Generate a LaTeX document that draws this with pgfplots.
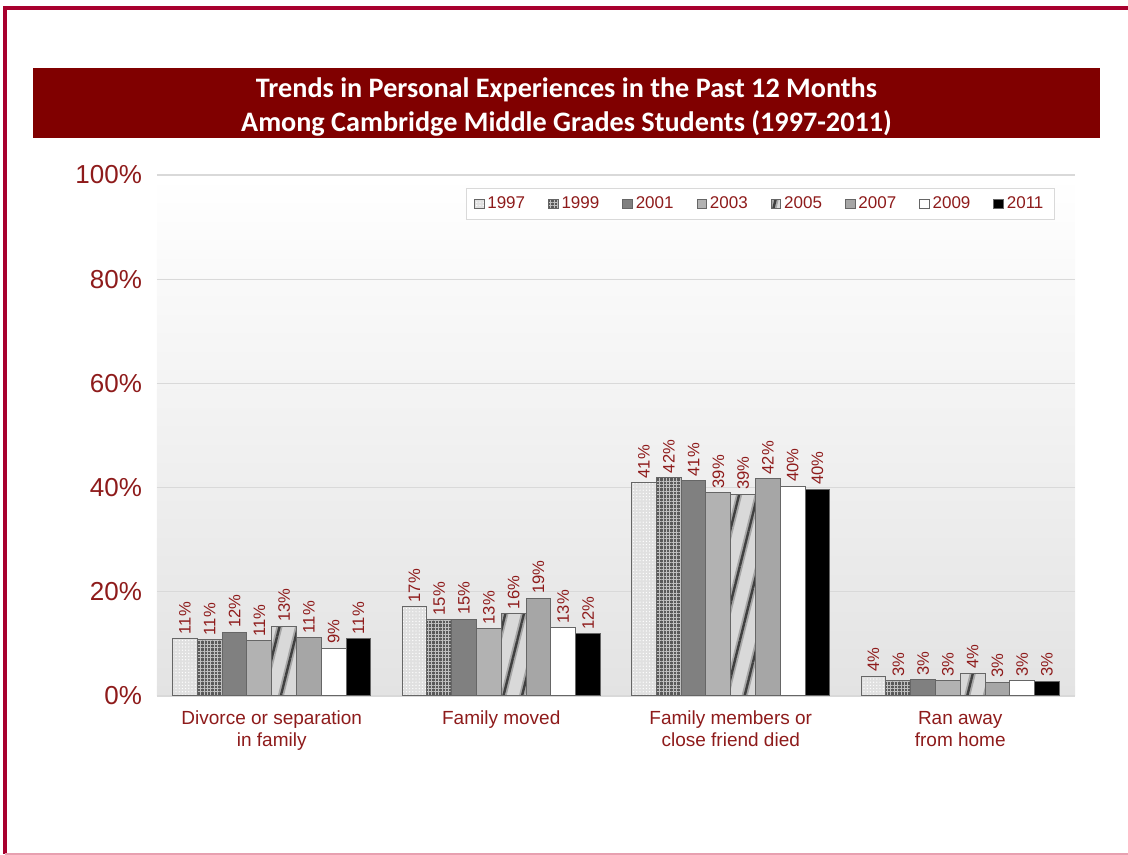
\documentclass[border=0pt]{standalone}
\usepackage{fontspec}
\setmainfont{Liberation Sans}
\newfontfamily\titlefont{Carlito}
\usepackage{pgfplots}
\pgfplotsset{compat=1.18}
\usetikzlibrary{patterns,patterns.meta}

\definecolor{labred}{HTML}{8E1B1B}
\definecolor{titlebg}{HTML}{800000}
\definecolor{framered}{HTML}{A8002E}
\definecolor{framepink}{HTML}{E8A0B0}

\begin{document}
\begin{tikzpicture}
% page extent: 1px of the reference = 0.5pt, origin = lower left of plot area
\useasboundingbox (-78.5pt,-79.5pt) rectangle (485.5pt,348pt);
\draw[framered, line width=1.6pt] (-76pt,-79pt) -- (-76pt,344pt) -- (486pt,344pt);
\draw[framepink, line width=0.6pt] (-76pt,-79pt) -- (486pt,-79pt);
\fill[titlebg] (-62pt,279pt) rectangle (471.5pt,314pt);
\node[text=white, align=center, font=\titlefont\bfseries\fontsize{14.1}{17}\selectfont]
  at (204.75pt,294.5pt) {Trends in Personal Experiences in the Past 12 Months\\Among Cambridge Middle Grades Students (1997-2011)};

\begin{axis}[
    at={(0,0)}, anchor=south west,
    scale only axis,
    width=459pt, height=260.5pt,
    ybar=0pt,
    bar width=0.108,
    xmin=-0.5, xmax=3.5,
    ymin=0, ymax=100,
    xtick={0,1,2,3},
    xticklabels={{Divorce or separation\\in family},{Family moved},{Family members or\\close friend died},{Ran away\\from home}},
    xticklabel style={align=center, text=labred, font=\fontsize{9.5}{11}\selectfont, yshift=-4pt},
    ytick={0,20,40,60,80,100},
    yticklabel={\pgfmathprintnumber{\tick}\%},
    yticklabel style={text=labred, font=\fontsize{13}{15}\selectfont, xshift=-4pt},
    /pgf/number format/assume math mode=true,
    major tick length=0pt,
    axis line style={draw=none},
    ymajorgrids=true,
    grid style={draw=black!15, line width=0.6pt},
    axis background/.style={top color=white, bottom color=black!11},
    nodes near coords={\pgfmathprintnumber[fixed,precision=0]{\pgfplotspointmeta}\%},
    every node near coord/.append style={rotate=90, anchor=west, text=labred,
        font=\fontsize{8.3}{9}\selectfont, inner sep=2pt},
    legend columns=8,
    legend style={at={(0.978,0.975)}, anchor=north east, draw=black!15,
        fill=white, font=\fontsize{8.5}{9}\selectfont, text=labred,
        inner ysep=2pt, inner xsep=4pt,
        nodes={inner xsep=1.5pt},
        /tikz/every even column/.append style={column sep=10pt}},
    legend image code/.code={\draw[#1, line width=0.4pt] (0pt,-2.4pt) rectangle (4.8pt,2.4pt);},
    every axis plot/.append style={draw=black!60, line width=0.5pt},
]
% 1997
\addplot[fill=black!12, postaction={pattern={Dots[distance=1.6pt, radius=0.35pt]}, pattern color=white}]
  coordinates {(0,11.0) (1,17.1) (2,40.9) (3,3.8)};
% 1999
\addplot[fill=black!65,
    postaction={pattern={Lines[angle=0, distance=1.7pt, line width=0.35pt]}, pattern color=black!25},
    postaction={pattern={Lines[angle=90, distance=1.7pt, line width=0.35pt]}, pattern color=black!25}]
  coordinates {(0,10.8) (1,14.6) (2,41.9) (3,2.9)};
% 2001
\addplot[fill=black!50]
  coordinates {(0,12.2) (1,14.7) (2,41.3) (3,3.1)};
% 2003
\addplot[fill=black!30]
  coordinates {(0,10.6) (1,12.9) (2,39.0) (3,2.9)};
% 2005
\addplot[fill=black!15,
    postaction={pattern={Lines[angle=76, distance=9pt, line width=3pt]}, pattern color=black!35},
    postaction={pattern={Lines[angle=76, distance=9pt, line width=1.2pt]}, pattern color=black!75}]
  coordinates {(0,13.4) (1,15.8) (2,38.7) (3,4.4)};
% 2007
\addplot[fill=black!35]
  coordinates {(0,11.2) (1,18.8) (2,41.7) (3,2.6)};
% 2009
\addplot[fill=white]
  coordinates {(0,9.2) (1,13.1) (2,40.3) (3,2.9)};
% 2011
\addplot[fill=black]
  coordinates {(0,11.0) (1,11.9) (2,39.7) (3,2.8)};
\legend{1997,1999,2001,2003,2005,2007,2009,2011}
\end{axis}
\end{tikzpicture}
\end{document}
